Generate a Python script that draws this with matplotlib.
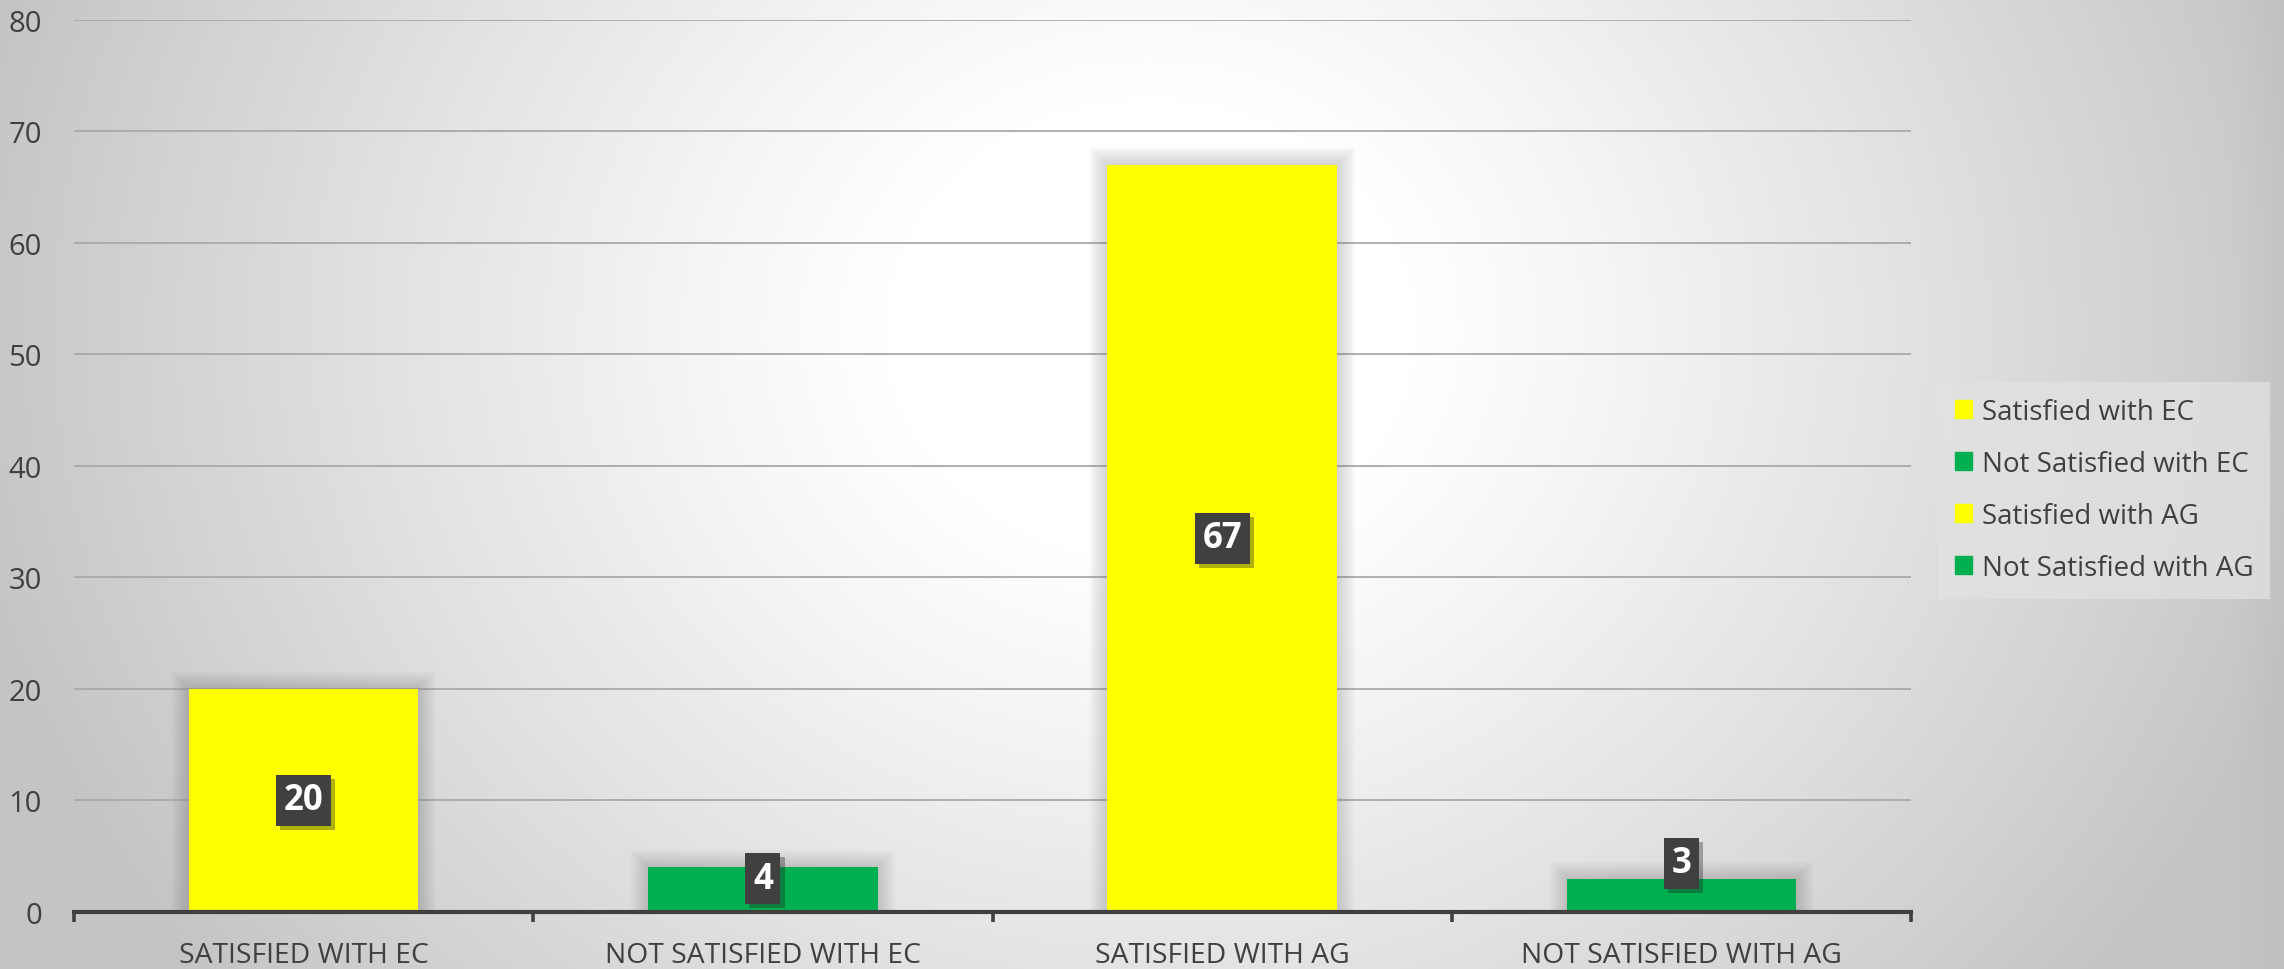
import numpy as np
import matplotlib
matplotlib.use("Agg")
import matplotlib.pyplot as plt
import matplotlib.patheffects as pe

plt.rcParams['font.family'] = ['Open Sans', 'DejaVu Sans']

categories = ["SATISFIED WITH EC", "NOT SATISFIED WITH EC", "SATISFIED WITH AG", "NOT SATISFIED WITH AG"]
series_names = ["Satisfied with EC", "Not Satisfied with EC", "Satisfied with AG", "Not Satisfied with AG"]
values = [20, 4, 67, 3]
colors = ["#FFFF00", "#00B050", "#FFFF00", "#00B050"]
yticks = [0, 10, 20, 30, 40, 50, 60, 70, 80]
label_offsets_px = [0, 11, 0, 32]

W, H, DPI = 2284, 970, 100
fig = plt.figure(figsize=(W / DPI, H / DPI), dpi=DPI)

# background radial gradient
bg = fig.add_axes([0, 0, 1, 1], zorder=-10)
yy, xx = np.mgrid[0:H, 0:W]
cx, cy = 1150, 330
d = np.sqrt(((xx - cx) / 1.15) ** 2 + ((yy - cy) / 1.0) ** 2)
t = np.clip((d - 230) / (1050 - 230), 0, 1)
g = 1.0 - 0.23 * t ** 1.1
g[:, 2230:] -= np.linspace(0, 0.02, W - 2230)[None, :]
bg.imshow(np.dstack([g, g, g]), aspect='auto', extent=[0, W, H, 0])
bg.set_axis_off()

left, right = 74 / W, 1911 / W
bottom, top = (H - 913) / H, (H - 20.7) / H
ax = fig.add_axes([left, bottom, right - left, top - bottom])
ax.set_facecolor('none')

x = np.arange(len(categories))
bw = 0.5
px_x = (len(categories)) / (1911 - 74)
px_y = 80 / (913 - 20.7)

# soft glow behind bars
for k in range(1, 19):
    ax.bar(x, np.array(values) + k * px_y, width=bw + 2 * k * px_x, color='#707070',
           alpha=0.017, zorder=1, linewidth=0)

bars = ax.bar(x, values, width=bw, color=colors, zorder=3, linewidth=0)

ax.set_xlim(-0.5, len(categories) - 0.5)
ax.set_ylim(0, 80)
ax.set_yticks(yticks)
ax.yaxis.grid(True, color='#a9a9a9', linewidth=1.3, zorder=0)
ax.set_axisbelow(True)
for s in ['top', 'right', 'left']:
    ax.spines[s].set_visible(False)
ax.spines['bottom'].set_color('#404040')
ax.spines['bottom'].set_linewidth(3.0)
ax.spines['bottom'].set_zorder(5)

ax.set_xticks(x)
ax.set_xticklabels(categories)
ax.set_xticks(np.arange(-0.5, len(categories)), minor=True)
ax.tick_params(axis='x', which='major', length=0, pad=21, labelsize=20.3, labelcolor='#404040')
ax.tick_params(axis='x', which='minor', length=7, width=2.6, color='#404040', direction='out')
ax.tick_params(axis='y', length=0, pad=23, labelsize=21, labelcolor='#404040')

for i, v in enumerate(values):
    txt = ax.annotate(str(v), xy=(x[i], v / 2), xytext=(0, label_offsets_px[i]),
                      textcoords='offset pixels', ha='center', va='center',
                      fontsize=25, fontweight='bold', color='white', zorder=10,
                      bbox=dict(boxstyle='square,pad=0.22', facecolor='#404040',
                                edgecolor='none', linewidth=0))
    txt.get_bbox_patch().set_path_effects(
        [pe.SimplePatchShadow(offset=(3, -3), shadow_rgbFace='#222222', alpha=0.35), pe.Normal()])

handles = [plt.Rectangle((0, 0), 1, 1, color=c) for c in colors]
leg = fig.legend(handles, series_names, loc='center left', bbox_to_anchor=(1938 / W, (H - 491) / H),
                 frameon=True, fontsize=20, handlelength=0.63, handleheight=0.63,
                 handletextpad=0.35, labelspacing=0.86, borderpad=0.6, fancybox=False,
                 borderaxespad=0)
leg.get_frame().set_facecolor('#e2e2e2')
leg.get_frame().set_alpha(0.75)
leg.get_frame().set_linewidth(0)
for t_ in leg.get_texts():
    t_.set_color('#404040')

fig.savefig('out.png', dpi=DPI)
